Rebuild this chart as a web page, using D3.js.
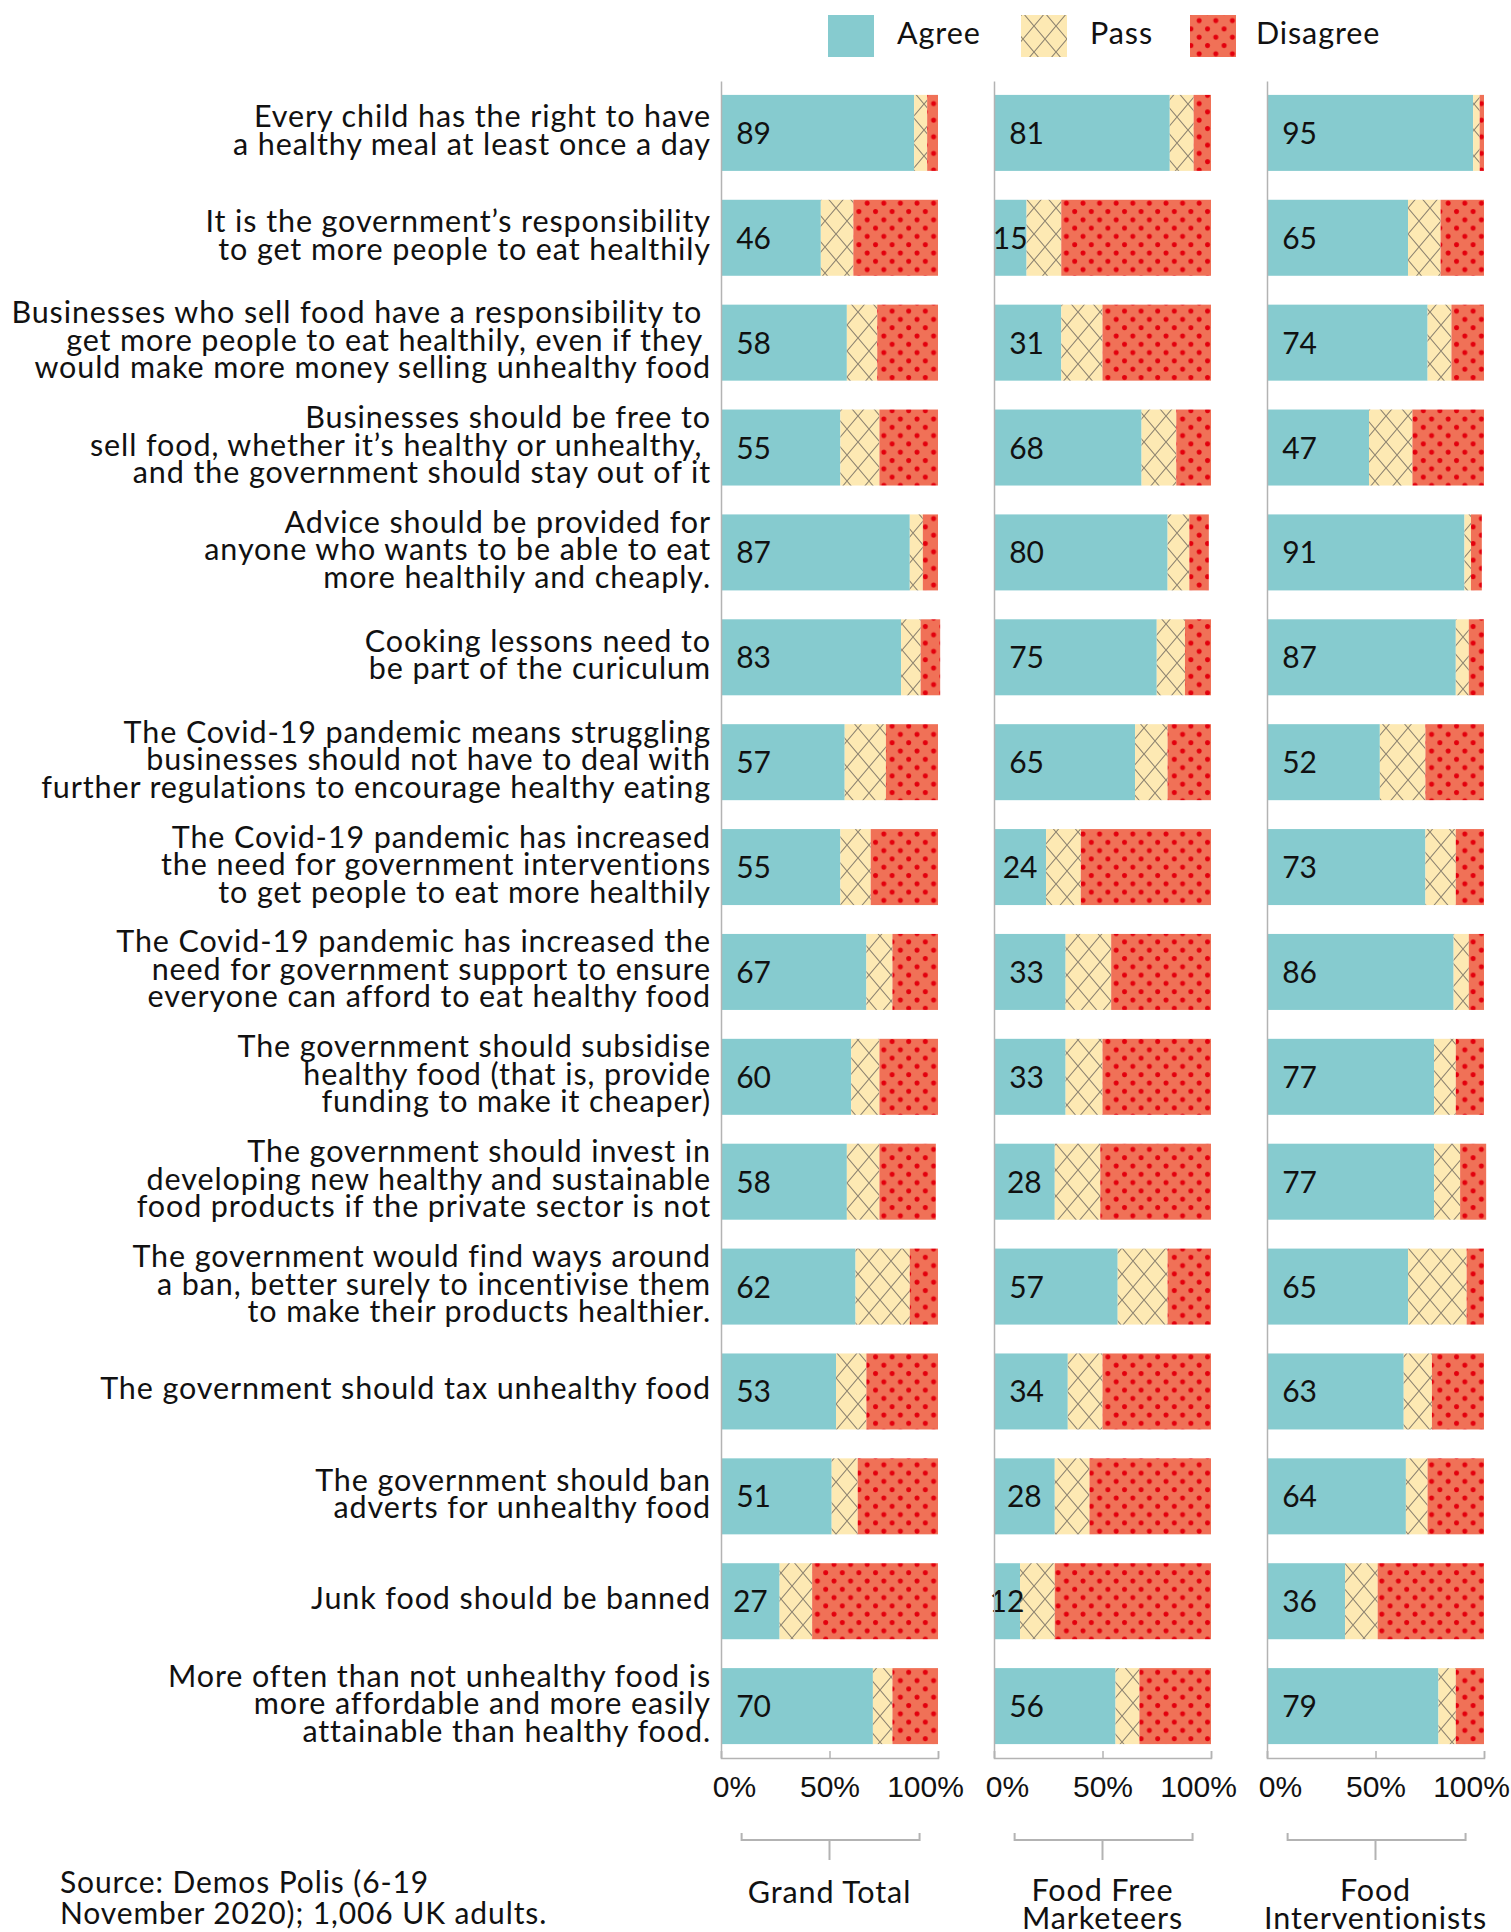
<!DOCTYPE html>
<html>
<head>
<meta charset="utf-8">
<script src="https://cdn.jsdelivr.net/npm/d3@7"></script>
<style>
  body { margin: 0; background: #fff; }
  svg { display: block; font-family: Lato, "Noto Sans", sans-serif; }
  .wide { letter-spacing: 0.9px; }
</style>
</head>
<body>
<svg width="1511" height="1932"></svg>
<script>
// statements (one entry per row, split into lines as printed)
const statements = [
  ["Every child has the right to have", "a healthy meal at least once a day"],
  ["It is the government\u2019s responsibility", "to get more people to eat healthily"],
  ["Businesses who sell food have a responsibility to ", "get more people to eat healthily, even if they ", "would make more money selling unhealthy food"],
  ["Businesses should be free to", "sell food, whether it\u2019s healthy or unhealthy, ", "and the government should stay out of it"],
  ["Advice should be provided for", "anyone who wants to be able to eat", "more healthily and cheaply."],
  ["Cooking lessons need to", "be part of the curiculum"],
  ["The Covid-19 pandemic means struggling", "businesses should not have to deal with", "further regulations to encourage healthy eating"],
  ["The Covid-19 pandemic has increased", "the need for government interventions", "to get people to eat more healthily"],
  ["The Covid-19 pandemic has increased the", "need for government support to ensure", "everyone can afford to eat healthy food"],
  ["The government should subsidise", "healthy food (that is, provide", "funding to make it cheaper)"],
  ["The government should invest in", "developing new healthy and sustainable", "food products if the private sector is not"],
  ["The government would find ways around", "a ban, better surely to incentivise them", "to make their products healthier."],
  ["The government should tax unhealthy food"],
  ["The government should ban", "adverts for unhealthy food"],
  ["Junk food should be banned"],
  ["More often than not unhealthy food is", "more affordable and more easily", "attainable than healthy food."]
];

const groups = [["Grand Total"], ["Food Free", "Marketeers"], ["Food", "Interventionists"]];
const seriesNames = ["Agree", "Pass", "Disagree"];
const tickValues = [0, 50, 100];
const source = ["Source: Demos Polis (6-19", "November 2020); 1,006 UK adults."];

// Grand Total
const agreeTotal    = [89, 46, 58, 55, 87, 83, 57, 55, 67, 60, 58, 62, 53, 51, 27, 70];
const passTotal     = [6, 15, 14, 18, 6, 9, 19, 14, 12, 13, 15, 25, 14, 12, 15, 9];
const disagreeTotal = [5, 39, 28, 27, 7, 9, 24, 31, 21, 27, 26, 13, 33, 37, 58, 21];
// Food Free Marketeers
const agreeFFM    = [81, 15, 31, 68, 80, 75, 65, 24, 33, 33, 28, 57, 34, 28, 12, 56];
const passFFM     = [11, 16, 19, 16, 10, 13, 15, 16, 21, 17, 21, 23, 16, 16, 16, 11];
const disagreeFFM = [8, 69, 50, 16, 9, 12, 20, 60, 46, 50, 51, 20, 50, 56, 72, 33];
// Food Interventionists
const agreeFI    = [95, 65, 74, 47, 91, 87, 52, 73, 86, 77, 77, 65, 63, 64, 36, 79];
const passFI     = [3, 15, 11, 20, 3, 6, 21, 14, 7, 10, 12, 27, 13, 10, 15, 8];
const disagreeFI = [2, 20, 15, 33, 5, 7, 27, 13, 7, 13, 12, 8, 24, 26, 49, 13];

const groupSeries = [
  [agreeTotal, passTotal, disagreeTotal],
  [agreeFFM, passFFM, disagreeFFM],
  [agreeFI, passFI, disagreeFI]
];

// layout
const svg = d3.select("svg");
const plotTop = 81, plotBottom = 1758;
const panelLeft = [721, 994, 1267], panelWidth = 217;
const labelRight = 711;
const axisColor = "#b3b3b3";
const fills = ["#86cbcf", "url(#hatch)", "url(#dots)"];

const y = d3.scaleBand()
  .domain(d3.range(statements.length))
  .range([plotTop, plotBottom])
  .paddingInner(0.2754)
  .paddingOuter(0.1325);

// patterns
const defs = svg.append("defs");
const hatch = defs.append("pattern").attr("id", "hatch")
  .attr("patternUnits", "userSpaceOnUse").attr("width", 22).attr("height", 26);
hatch.append("rect").attr("width", 22).attr("height", 26).attr("fill", "#fde9b3");
hatch.append("path").attr("d", "M0,0L22,26M22,0L0,26")
  .attr("stroke", "#8d8370").attr("stroke-width", 1.1).attr("fill", "none");

const dots = defs.append("pattern").attr("id", "dots")
  .attr("patternUnits", "userSpaceOnUse").attr("width", 16.6).attr("height", 16.6);
dots.append("rect").attr("width", 16.6).attr("height", 16.6).attr("fill", "#f07157");
[[4, 4], [12.3, 12.3]].forEach(([cx, cy]) =>
  dots.append("circle").attr("cx", cx).attr("cy", cy).attr("r", 2.5).attr("fill", "#e3000d"));

// row labels
svg.append("g").attr("class", "row-labels")
  .selectAll("text")
  .data(statements)
  .join("text")
  .attr("class", "wide")
  .attr("text-anchor", "end")
  .attr("font-size", 30.5)
  .attr("fill", "#111")
  .style("white-space", "pre")
  .each(function (lines, i) {
    const mid = y(i) + y.bandwidth() / 2 + 8;
    const first = mid - (lines.length - 1) * 27.5 / 2;
    d3.select(this).selectAll("tspan")
      .data(lines)
      .join("tspan")
      .attr("x", labelRight)
      .attr("y", (d, k) => first + k * 27.5)
      .text(d => d);
  });

// panels
groups.forEach((groupLines, gi) => {
  const x = d3.scaleLinear().domain([0, 100]).range([panelLeft[gi], panelLeft[gi] + panelWidth]);
  const [agree, pass, disagree] = groupSeries[gi];
  const rows = statements.map((_, i) => [agree[i], pass[i], disagree[i]]);
  const stacked = d3.stack().keys([0, 1, 2]).value((d, k) => d[k])(rows);

  const panel = svg.append("g").attr("class", "panel");

  panel.selectAll("g.series")
    .data(stacked)
    .join("g")
    .attr("class", "series")
    .attr("fill", (d, k) => fills[k])
    .selectAll("rect")
    .data(d => d)
    .join("rect")
    .attr("x", d => x(d[0]))
    .attr("y", (d, i) => y(i))
    .attr("width", d => x(d[1]) - x(d[0]))
    .attr("height", y.bandwidth());

  // value labels for agree
  panel.selectAll("text.value")
    .data(agree)
    .join("text")
    .attr("class", "value")
    .attr("x", v => x(Math.min(v / 2, 15)))
    .attr("y", (v, i) => y(i) + y.bandwidth() / 2 + 11)
    .attr("text-anchor", "middle")
    .attr("font-size", 30)
    .attr("fill", "#111")
    .text(v => v);

  // left axis line
  const yAxis = panel.append("g")
    .attr("transform", `translate(${panelLeft[gi]},0)`)
    .call(d3.axisLeft(d3.scaleLinear().range([plotTop, plotBottom])).tickValues([]).tickSizeOuter(0));
  yAxis.select(".domain").attr("stroke", axisColor).attr("stroke-width", 1.5);

  // bottom axis
  const xAxis = panel.append("g")
    .attr("transform", `translate(0,${plotBottom})`)
    .call(d3.axisBottom(x).tickValues(tickValues).tickFormat(d => d + "%")
      .tickSize(-7).tickPadding(18));
  xAxis.selectAll("path, line").attr("stroke", axisColor).attr("stroke-width", 1.5);
  xAxis.selectAll("text")
    .attr("font-size", 30).attr("font-family", null).attr("fill", "#111")
    .attr("dx", d => d === 0 ? 13 : d === 100 ? -13 : 0);

  // bracket under panel
  const bx0 = x(9.5), bx1 = x(91.5), bmid = x(50);
  panel.append("path")
    .attr("d", `M${bx0},1833V1840H${bx1}V1833M${bmid},1840V1860`)
    .attr("fill", "none").attr("stroke", axisColor).attr("stroke-width", 2);

  // group label
  const gBase = groupLines.length === 1 ? 1903 : 1901;
  panel.append("text")
    .attr("class", "wide")
    .attr("text-anchor", "middle")
    .attr("font-size", 30.5)
    .attr("fill", "#111")
    .selectAll("tspan")
    .data(groupLines)
    .join("tspan")
    .attr("x", bmid)
    .attr("y", (d, k) => gBase + k * 28)
    .text(d => d);
});

// legend
const legendX = [828, 1021, 1190];
const legendTextX = [897, 1090, 1256];
const legend = svg.append("g").attr("class", "legend");
seriesNames.forEach((name, k) => {
  legend.append("rect")
    .attr("x", legendX[k]).attr("y", 15)
    .attr("width", 46).attr("height", 42)
    .attr("fill", fills[k]);
  legend.append("text")
    .attr("class", "wide")
    .attr("x", legendTextX[k]).attr("y", 44)
    .attr("font-size", 30.5).attr("fill", "#111")
    .text(name);
});

// source note
svg.append("text")
  .attr("class", "wide")
  .attr("font-size", 30).attr("fill", "#111")
  .selectAll("tspan")
  .data(source)
  .join("tspan")
  .attr("x", 60)
  .attr("y", (d, k) => 1893 + k * 31)
  .text(d => d);
</script>
</body>
</html>
